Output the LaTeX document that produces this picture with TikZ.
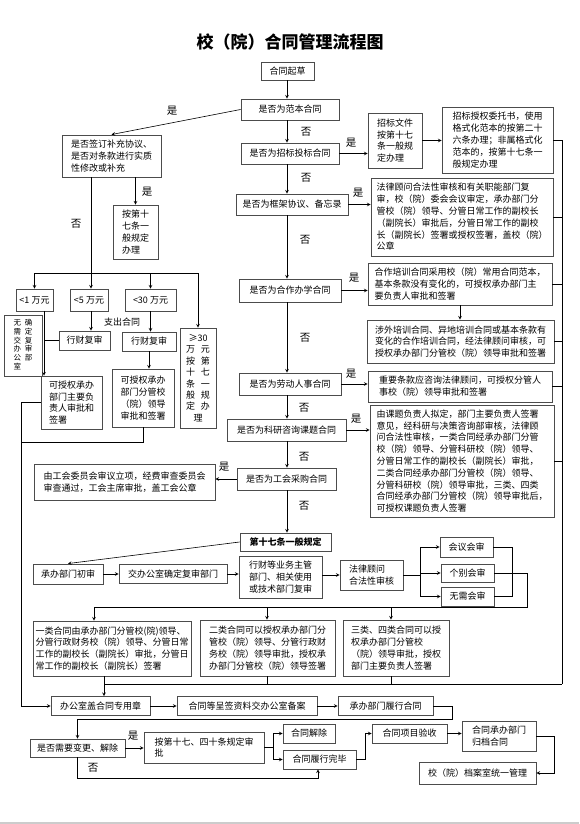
\documentclass[tikz,border=0pt]{standalone}
\usepackage{fontspec}
\setmainfont{Noto Sans CJK SC}
\tikzset{
	box/.style={draw=black!70, line width=0.9pt, inner sep=1.5pt, align=left, font=\fontsize{9}{11.8}\selectfont},
	lab/.style={font=\fontsize{10.5}{12}\selectfont},
	>=stealth
}
\begin{document}
\begin{tikzpicture}[x=1pt, y=-1pt, line width=0.6pt]

		\useasboundingbox (0,0) rectangle (579,824);

		% title

		\node (tt) at (290,42) {\fontsize{17}{20}\selectfont\bfseries 校（院）合同管理流程图};

		% define point

		\coordinate (sp)  at (287,0);

		\coordinate (bus) at (562,0);

		\coordinate (busend) at (562,684);

		\coordinate (lft) at (21,0);

		\coordinate (fz)  at (91,273);

		\coordinate (yw)  at (44,0);

		\coordinate (hs)  at (420,0);

		\coordinate (kb)  at (512,0);

		\coordinate (kc)  at (527,0);

		\coordinate (fd)  at (0,607);

		\coordinate (f1)  at (94,607);

		\coordinate (f2)  at (267,607);

		\coordinate (f3)  at (391,607);

		\coordinate (hd)  at (104,684);

		\coordinate (ly)  at (452,719);

		\coordinate (ab)  at (273,0);

		\coordinate (nb)  at (318,778);

		\coordinate (yq)  at (365,0);

		\coordinate (gq)  at (554,0);

		% main column

		\node[box, minimum width=53, minimum height=18] (qc) at (287.5,71) {合同起草};

		\node[box, minimum width=98, minimum height=21] (fb) at (290,109.5) {是否为范本合同};

		\node[box, minimum width=98, minimum height=21] (zb) at (290,153.5) {是否为招标投标合同};

		\node[box, minimum width=112, minimum height=21] (kj) at (292,204.5) {是否为框架协议、备忘录};

		\node[box, minimum width=102, minimum height=23] (hz) at (290,290.5) {是否为合作办学合同};

		\node[box, minimum width=102, minimum height=22] (ld) at (290,384) {是否为劳动人事合同};

		\node[box, minimum width=119, minimum height=22] (ky) at (286.5,430) {是否为科研咨询课题合同};

		\node[box, minimum width=99, minimum height=22] (gh) at (286.5,479) {是否为工会采购合同};

		\node[box, minimum width=91, minimum height=18] (yb) at (285.5,542) {\bfseries 第十七条一般规定};

		% right column

		\node[box, minimum width=54, minimum height=55] (zw) at (395,140.5) {招标文件\\按第十七\\条一般规\\定办理};

		\node[box, minimum width=111, minimum height=66] (zs) at (497.5,140) {招标授权委托书，使用\\格式化范本的按第二十\\六条办理；非属格式化\\范本的，按第十七条一\\般规定办理};

		\node[box, minimum width=182, minimum height=78] (fg) at (462,217) {法律顾问合法性审核和有关职能部门复\\审，校（院）委会会议审定，承办部门分\\管校（院）领导、分管日常工作的副校长\\（副院长）审批后，分管日常工作的副校\\长（副院长）签署或授权签署，盖校（院）\\公章};

		\node[box, minimum width=184, minimum height=42] (hp) at (460,284) {合作培训合同采用校（院）常用合同范本，\\基本条款没有变化的，可授权承办部门主\\要负责人审批和签署};

		\node[box, minimum width=187, minimum height=43] (sw) at (460.5,341.5) {涉外培训合同、异地培训合同或基本条款有\\变化的合作培训合同，经法律顾问审核，可\\授权承办部门分管校（院）领导审批和签署};

		\node[box, minimum width=184, minimum height=31] (zy) at (460,386.5) {重要条款应咨询法律顾问，可授权分管人\\事校（院）领导审批和签署};

		\node[box, minimum width=184, minimum height=112] (kt) at (462,461) {由课题负责人拟定，部门主要负责人签署\\意见，经科研与决策咨询部审核，法律顾\\问合法性审核，一类合同经承办部门分管\\校（院）领导、分管科研校（院）领导、\\分管日常工作的副校长（副院长）审批，\\二类合同经承办部门分管校（院）领导、\\分管科研校（院）领导审批，三类、四类\\合同经承办部门分管校（院）领导审批后，\\可授权课题负责人签署};

		% left column

		\node[box, minimum width=99, minimum height=42] (bc) at (111.5,156) {是否签订补充协议、\\是否对条款进行实质\\性修改或补充};

		\node[box, minimum width=45, minimum height=54] (a17a) at (135.5,232) {按第十\\七条一\\般规定\\办理};

		\node[box, minimum width=37, minimum height=22, align=center] (w1) at (34.5,300) {<1 万元};

		\node[box, minimum width=38, minimum height=22, align=center] (w5) at (89,300) {<5 万元};

		\node[box, minimum width=51, minimum height=22, align=center] (w30) at (150.5,300) {<30 万元};

		\node[box, minimum width=51, minimum height=19, align=center] (cf1) at (84.5,340.5) {行财复审};

		\node[box, minimum width=54, minimum height=19, align=center] (cf2) at (149,341.5) {行财复审};

		\node[box, minimum width=36, minimum height=100, align=center, font=\fontsize{9}{11.4}\selectfont] (ge30) at (198,378) {≥30\\万\hspace{6pt}元\\按\hspace{6pt}第\\十\hspace{6pt}七\\条\hspace{6pt}一\\般\hspace{6pt}规\\定\hspace{6pt}办\\理\hspace{15pt}};

		\node[box, minimum width=38, minimum height=61, inner sep=0pt, font=\fontsize{7.5}{7.7}\selectfont] (wx) at (23,345.5) {\begin{tabular}{@{}c@{\hspace{4pt}}c@{}}无&确\\需&定\\交&复\\办&审\\公&部\\室&\end{tabular}};

		\node[box, minimum width=61, minimum height=53] (kz) at (71.5,402.5) {可授权承办\\部门主要负\\责人审批和\\签署};

		\node[box, minimum width=62, minimum height=58] (fl) at (143,398) {可授权承办\\部门分管校\\（院）领导\\审批和签署};

		\node[box, minimum width=181, minimum height=36] (gw) at (124.5,482) {由工会委员会审议立项，经费审查委员会\\审查通过，工会主席审批，盖工会公章};

		\node[font=\fontsize{9}{11}\selectfont] (zc) at (122,322) {支出合同};

		% seventeenth article procedure

		\node[box, minimum width=70, minimum height=20] (cs) at (68,574) {承办部门初审};

		\node[box, minimum width=108, minimum height=19] (jb) at (173,574) {交办公室确定复审部门};

		\node[box, minimum width=83, minimum height=42] (xc) at (280.5,577) {行财等业务主管\\部门、相关使用\\或技术部门复审};

		\node[box, minimum width=63, minimum height=30] (fh) at (371.5,575) {法律顾问\\合法性审核};

		\node[box, minimum width=53, minimum height=20] (hy) at (466.5,547) {会议会审};

		\node[box, minimum width=53, minimum height=18] (gb) at (467.5,573) {个别会审};

		\node[box, minimum width=53, minimum height=19] (wh) at (467.5,596.5) {无需会审};

		\node[box, minimum width=158, minimum height=55] (yl) at (112,648.5) {一类合同由承办部门分管校(院)领导、\\分管行政财务校（院）领导、分管日常\\工作的副校长（副院长）审批，分管日\\常工作的副校长（副院长）签署};

		\node[box, minimum width=135, minimum height=56] (el) at (267.5,648) {二类合同可以授权承办部门分\\管校（院）领导、分管行政财\\务校（院）领导审批，授权承\\办部门分管校（院）领导签署};

		\node[box, minimum width=106, minimum height=56] (sl) at (396,648) {三类、四类合同可以授\\权承办部门分管校\\（院）领导审批，授权\\部门主要负责人签署};

		% after signing

		\node[box, minimum width=99, minimum height=19] (bg) at (100.5,706) {办公室盖合同专用章};

		\node[box, minimum width=140, minimum height=19] (cq) at (247,706) {合同等呈签资料交办公室备案};

		\node[box, minimum width=95, minimum height=19] (lx) at (385.5,706) {承办部门履行合同};

		\node[box, minimum width=95, minimum height=18] (bj) at (77.5,748) {是否需要变更、解除};

		\node[box, minimum width=120, minimum height=31] (as) at (204,747.5) {按第十七、四十条规定审\\批};

		\node[box, minimum width=52, minimum height=19] (jc) at (309,733.5) {合同解除};

		\node[box, minimum width=73, minimum height=19] (wb) at (319.5,759.5) {合同履行完毕};

		\node[box, minimum width=75, minimum height=19] (ys) at (409.5,733.5) {合同项目验收};

		\node[box, minimum width=74, minimum height=30] (gd) at (499,736) {合同承办部门\\归档合同};

		\node[box, minimum width=117, minimum height=22] (da) at (477.5,773) {校（院）档案室统一管理};

		% yes / no

		\node[lab] (l1)  at (172,111) {是};

		\node[lab] (l2)  at (306,132) {否};

		\node[lab] (l3)  at (147,192) {是};

		\node[lab] (l4)  at (76,224)  {否};

		\node[lab] (l5)  at (351,143) {是};

		\node[lab] (l6)  at (306,178) {否};

		\node[lab] (l7)  at (358,193) {是};

		\node[lab] (l8)  at (305,240) {否};

		\node[lab] (l9)  at (354,278) {是};

		\node[lab] (l10) at (305,338) {否};

		\node[lab] (l11) at (351,374) {是};

		\node[lab] (l12) at (304,408) {否};

		\node[lab] (l13) at (356,419) {是};

		\node[lab] (l14) at (304,457) {否};

		\node[lab] (l15) at (224,467) {是};

		\node[lab] (l16) at (304,506) {否};

		\node[lab] (l17) at (133,736) {是};

		\node[lab] (l18) at (93,768)  {否};

		% main column arrows

		\draw[->] (qc.south -| sp) -- (fb.north -| sp);

		\draw[->] (fb.south -| sp) -- (zb.north -| sp);

		\draw[->] (zb.south -| sp) -- (kj.north -| sp);

		\draw[->] (kj.south -| sp) -- (hz.north -| sp);

		\draw[->] (hz.south -| sp) -- (ld.north -| sp);

		\draw[->] (ld.south -| sp) -- (ky.north -| sp);

		\draw[->] (ky.south -| sp) -- (gh.north -| sp);

		\draw[->] (gh.south -| sp) -- (yb.north -| sp);

		\draw[->] (fb.west) -- (bc.north);

		% right column arrows

		\draw[->] (zb.east) -- (zb.east -| zw.west);

		\draw[->] (zw.east) -- (zw.east -| zs.west);

		\draw (zs.east) -- (zs.east -| bus) -- (busend);

		\draw[->] (kj.east) -- (kj.east -| fg.west);

		\draw (fg.east) -- (fg.east -| bus);

		\draw[->] (hz.east) -- (hz.east -| hp.west);

		\draw (hp.east) -- (hp.east -| bus);

		\draw[->] (hp.south) -- (hp.south |- sw.north);

		\draw (sw.east) -- (sw.east -| bus);

		\draw[->] (ld.east) -- (ld.east -| zy.west);

		\draw (zy.east) -- (zy.east -| bus);

		\draw[->] (ky.east) -- (ky.east -| kt.west);

		\draw (kt.east) -- (kt.east -| bus);

		\draw[->] (gh.west) -- (gh.west -| gw.east);

		% left column arrows

		\draw[->] (bc.south -| a17a.north) -- (a17a.north);

		\draw (bc.south -| fz) -- (fz);

		\draw (fz -| w1.north) -- (fz -| ge30.north);

		\draw[->] (fz -| w1.north) -- (w1.north);

		\draw[->] (fz) -- (fz |- w5.north);

		\draw[->] (fz -| w30.north) -- (w30.north);

		\draw[->] (fz -| ge30.north) -- (ge30.north);

		\draw[->] (w5.south -| fz) -- (cf1.north -| fz);

		\draw[->] (w30.south) -- (w30.south |- cf2.north);

		\draw[->] (cf2.south) -- (cf2.south |- fl.north);

		\draw[->] (w1.south -| yw) -- (kz.north -| yw);

		\draw (cf1.west) -- (cf1.west -| yw);

		\draw[->] (kz.west) -- (kz.west -| lft) -- (lft |- bg.west) -- (bg.west);

		\draw (fl.south) |- (21,442);

		% seventeenth article arrows

		\draw[->] (yb.west) -- (cs.north);

		\draw[->] (cs.east) -- (jb.west);

		\draw[->] (jb.east) -- (jb.east -| xc.west);

		\draw[->] (xc.east |- fh.west) -- (fh.west);

		\draw (fh.east) -- (fh.east -| hs);

		\draw (hy.west -| hs) -- (wh.west -| hs);

		\draw[->] (hy.west -| hs) -- (hy.west);

		\draw[->] (gb.west -| hs) -- (gb.west);

		\draw[->] (wh.west -| hs) -- (wh.west);

		\draw (hy.east) -- (hy.east -| kb) -- (wh.east -| kb) -- (wh.east);

		\draw (gb.east) -| (kc |- fd) -- (f1);

		\draw[->] (f1) -- (f1 |- yl.north);

		\draw[->] (f2) -- (f2 |- el.north);

		\draw[->] (f3) -- (f3 |- sl.north);

		\draw[->] (yl.south -| hd) -- (bg.north -| hd);

		\draw (el.south -| f2) -- (f2 |- hd);

		\draw (sl.south -| f3) -- (f3 |- hd);

		\draw (hd) -- (busend);

		% after signing arrows

		\draw[->] (bg.east) -- (cq.west);

		\draw[->] (cq.east) -- (lx.west);

		\draw[->] (lx.east) -| (ly) -- (bj.north |- ly) -- (bj.north);

		\draw[->] (bj.east) -- (bj.east -| as.west);

		\draw (as.east) -- (as.east -| ab);

		\draw (jc.west -| ab) -- (wb.west -| ab);

		\draw[->] (jc.west -| ab) -- (jc.west);

		\draw[->] (wb.west -| ab) -- (wb.west);

		\draw[->] (bj.south) |- (nb) -- (nb |- wb.south);

		\draw[->] (wb.east) -| (yq |- ys.west) -- (ys.west);

		\draw[->] (ys.east) -- (ys.east -| gd.west);

		\draw[->] (gd.east) -| (gq |- da.east) -- (da.east);

		% page edge

		\fill[black!20] (0,822) rectangle (579,824);

	\end{tikzpicture}
\end{document}
